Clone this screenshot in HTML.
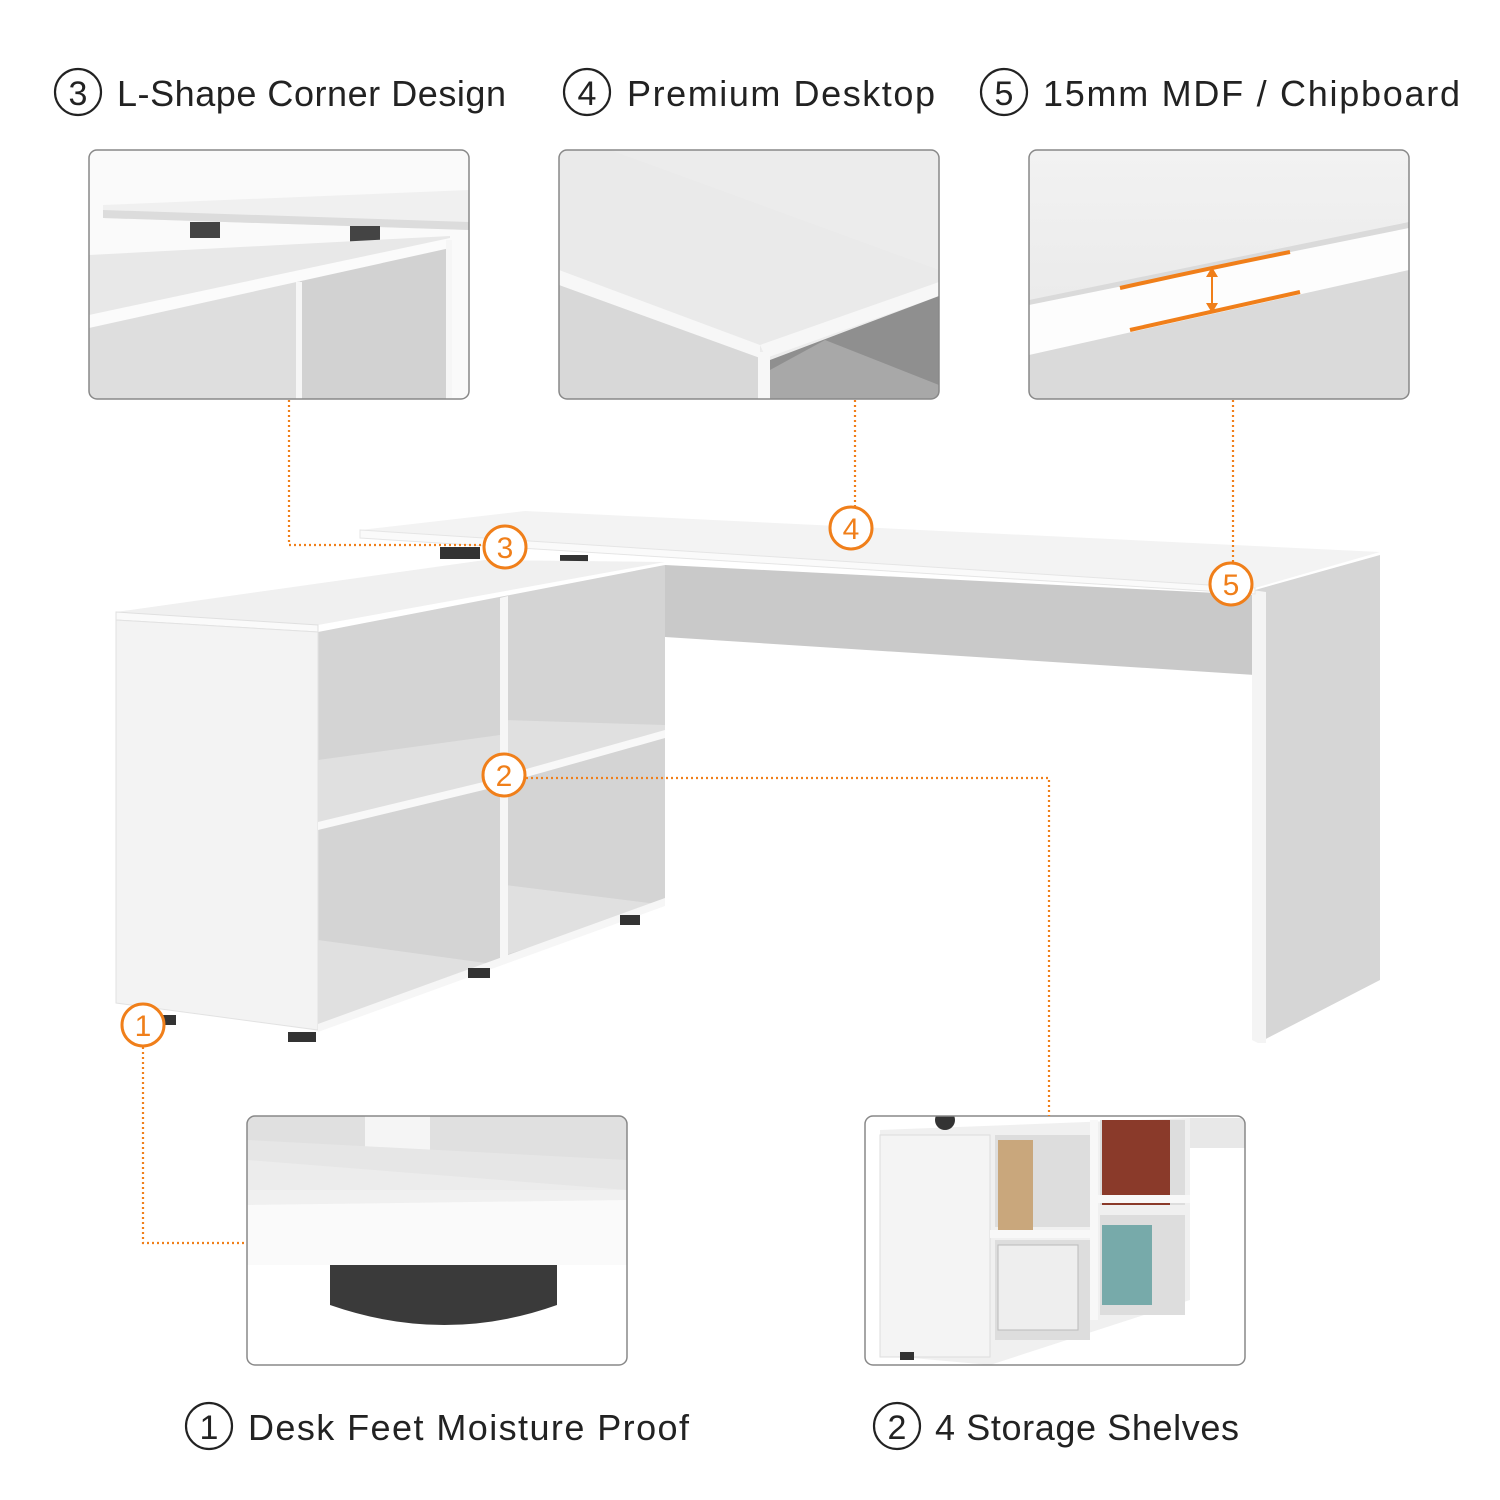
<!DOCTYPE html>
<html><head><meta charset="utf-8"><style>
html,body{margin:0;padding:0;background:#fff}
svg{display:block}
text{font-family:"Liberation Sans","DejaVu Sans",sans-serif}
</style></head><body>
<svg width="1500" height="1500" viewBox="0 0 1500 1500" xmlns="http://www.w3.org/2000/svg">
<defs>
<linearGradient id="g5" x1="0" y1="0" x2="0" y2="1"><stop offset="0" stop-color="#f2f2f2"/><stop offset="1" stop-color="#e6e6e6"/></linearGradient>
<clipPath id="c1"><rect x="89" y="150" width="380" height="249" rx="8"/></clipPath>
<clipPath id="c2"><rect x="559" y="150" width="380" height="249" rx="8"/></clipPath>
<clipPath id="c3"><rect x="1029" y="150" width="380" height="249" rx="8"/></clipPath>
<clipPath id="c4"><rect x="247" y="1116" width="380" height="249" rx="8"/></clipPath>
<clipPath id="c5"><rect x="865" y="1116" width="380" height="249" rx="8"/></clipPath>
</defs>

<!-- Headers -->
<g fill="none" stroke="#222" stroke-width="2.2">
<circle cx="78" cy="92" r="23"/><circle cx="587" cy="92" r="23"/><circle cx="1004" cy="92" r="23"/>
<circle cx="209" cy="1426" r="23"/><circle cx="897" cy="1426" r="23"/>
</g>
<g font-size="36" fill="#222">
<text x="78" y="105" text-anchor="middle" font-size="34">3</text>
<text x="587" y="105" text-anchor="middle" font-size="34">4</text>
<text x="1004" y="105" text-anchor="middle" font-size="34">5</text>
<text x="209" y="1439" text-anchor="middle" font-size="34">1</text>
<text x="897" y="1439" text-anchor="middle" font-size="34">2</text>
<text x="117" y="106" textLength="389">L-Shape Corner Design</text>
<text x="627" y="106" textLength="308">Premium Desktop</text>
<text x="1043" y="106" textLength="417">15mm MDF / Chipboard</text>
<text x="248" y="1440" textLength="441">Desk Feet Moisture Proof</text>
<text x="935" y="1440" textLength="304">4 Storage Shelves</text>
</g>

<!-- Box 1 -->
<g clip-path="url(#c1)">
<rect x="89" y="150" width="380" height="249" fill="#fafafa"/>
<polygon points="103,205 470,190 470,230 103,218" fill="#f0f0f0"/>
<polygon points="103,210 470,222 470,230 103,218" fill="#dcdcdc"/>
<rect x="190" y="222" width="30" height="16" fill="#444"/><rect x="350" y="226" width="30" height="16" fill="#444"/>
<polygon points="89,255 450,236 450,250 89,320" fill="#e8e8e8"/>
<polygon points="89,320 300,280 300,400 89,400" fill="#dedede"/>
<polygon points="300,280 450,240 450,400 300,400" fill="#d2d2d2"/>
<polygon points="89,315 450,238 450,248 89,328" fill="#fbfbfb"/>
<rect x="296" y="282" width="6" height="118" fill="#f6f6f6"/>
<rect x="446" y="240" width="6" height="160" fill="#f6f6f6"/>
</g>
<rect x="89" y="150" width="380" height="249" rx="8" fill="none" stroke="#888" stroke-width="1.5"/>

<!-- Box 2 -->
<g clip-path="url(#c2)">
<rect x="559" y="150" width="380" height="249" fill="#ececec"/>
<polygon points="559,150 610,150 939,270 939,290 760,350 559,270" fill="#eaeaea"/>
<polygon points="559,275 760,350 760,400 559,400" fill="#d8d8d8"/>
<polygon points="559,270 760,345 760,358 559,285" fill="#f7f7f7"/>
<polygon points="760,345 939,282 939,296 766,358" fill="#f7f7f7"/>
<polygon points="770,360 939,296 939,400 770,400" fill="#8f8f8f"/>
<polygon points="770,370 825,340 939,385 939,400 770,400" fill="#a8a8a8"/>
<rect x="758" y="352" width="12" height="48" fill="#f7f7f7"/>
</g>
<rect x="559" y="150" width="380" height="249" rx="8" fill="none" stroke="#888" stroke-width="1.5"/>

<!-- Box 3 -->
<g clip-path="url(#c3)">
<rect x="1029" y="150" width="380" height="249" fill="url(#g5)"/>
<polygon points="1029,300 1409,222 1409,400 1029,400" fill="#dadada"/>
<polygon points="1029,305 1409,228 1409,270 1029,355" fill="#fdfdfd"/>
<path d="M1120,288 Q1210,268 1290,252" stroke="#f07f1a" stroke-width="4" fill="none"/>
<path d="M1130,330 Q1210,312 1300,292" stroke="#f07f1a" stroke-width="4" fill="none"/>
<line x1="1212" y1="270" x2="1212" y2="310" stroke="#f07f1a" stroke-width="2"/>
<polygon points="1206,277 1212,267 1218,277" fill="#f07f1a"/><polygon points="1206,303 1212,313 1218,303" fill="#f07f1a"/>
</g>
<rect x="1029" y="150" width="380" height="249" rx="8" fill="none" stroke="#888" stroke-width="1.5"/>

<!-- Box 4 -->
<g clip-path="url(#c4)">
<rect x="247" y="1116" width="380" height="249" fill="#fff"/>
<polygon points="247,1116 627,1116 627,1160 247,1160" fill="#e0e0e0"/>
<rect x="365" y="1116" width="65" height="40" fill="#f5f5f5"/>
<polygon points="247,1140 627,1160 627,1190 247,1180" fill="#e6e6e6"/>
<polygon points="247,1160 627,1190 627,1235 247,1210" fill="#ececec"/>
<polygon points="247,1210 627,1235 627,1240 247,1215" fill="#f8f8f8"/>
<path d="M330,1240 L557,1240 L557,1300 Q445,1345 330,1300 Z" fill="#3a3a3a"/>
<rect x="247" y="1190" width="380" height="75" fill="#f3f3f3" opacity="0.6"/>
<polygon points="247,1205 627,1200 627,1265 247,1265" fill="#fafafa"/>
<path d="M330,1265 L557,1265 L557,1305 Q445,1345 330,1305 Z" fill="#3a3a3a"/>
</g>
<rect x="247" y="1116" width="380" height="249" rx="8" fill="none" stroke="#888" stroke-width="1.5"/>

<!-- Box 5 -->
<g clip-path="url(#c5)">
<rect x="865" y="1116" width="380" height="249" fill="#fff"/>
<rect x="1190" y="1118" width="55" height="30" fill="#e8e8e8"/>
<polygon points="880,1130 1190,1118 1190,1300 990,1365 880,1355" fill="#f0f0f0"/>
<rect x="880" y="1135" width="110" height="222" fill="#f4f4f4" stroke="#ddd"/>
<rect x="995" y="1135" width="95" height="92" fill="#ddd"/>
<rect x="995" y="1240" width="95" height="100" fill="#ddd"/>
<rect x="1100" y="1120" width="85" height="85" fill="#ddd"/>
<rect x="1100" y="1215" width="85" height="100" fill="#ddd"/>
<rect x="998" y="1140" width="35" height="95" fill="#c9a77c"/>
<rect x="1102" y="1120" width="68" height="85" fill="#8a3a2a"/>
<rect x="998" y="1245" width="80" height="85" fill="#eee" stroke="#bbb"/>
<rect x="1102" y="1225" width="50" height="80" fill="#7aa"/>
<rect x="1090" y="1120" width="8" height="200" fill="#f8f8f8"/>
<rect x="1095" y="1195" width="95" height="8" fill="#f8f8f8"/>
<rect x="990" y="1230" width="100" height="8" fill="#f8f8f8"/>
<circle cx="945" cy="1120" r="10" fill="#333"/>
<rect x="900" y="1352" width="14" height="8" fill="#333"/>
</g>
<rect x="865" y="1116" width="380" height="249" rx="8" fill="none" stroke="#888" stroke-width="1.5"/>

<!-- Desk -->
<polygon points="665,565 1255,595 1255,675 665,637" fill="#c9c9c9"/>
<polygon points="1255,590 1380,555 1380,980 1258,1043" fill="#d6d6d6"/>
<polygon points="1252,590 1266,592 1266,1043 1258,1043 1252,1040" fill="#f4f4f4"/>
<polygon points="360,530 525,511 1380,552 1255,588" fill="#f3f3f3"/>
<polygon points="360,530 1255,588 1255,594 360,538" fill="#fafafa" stroke="#e5e5e5"/>
<rect x="440" y="547" width="40" height="12" fill="#333"/><rect x="560" y="555" width="28" height="14" fill="#333"/>
<!-- cabinet -->
<polygon points="116,612 485,560 665,562 318,625" fill="#f0f0f0"/>
<polygon points="116,612 318,625 318,632 116,620" fill="#fafafa" stroke="#e0e0e0"/>
<polygon points="318,632 665,565 665,905 318,1030" fill="#d4d4d4"/>
<polygon points="116,620 318,632 318,1030 116,1003" fill="#f3f3f3" stroke="#e2e2e2"/>
<polygon points="318,760 500,735 500,780 318,828" fill="#e0e0e0"/>
<polygon points="318,822 500,778 500,786 318,830" fill="#f8f8f8"/>
<polygon points="505,720 665,725 665,733 505,780" fill="#e0e0e0"/>
<polygon points="505,775 665,730 665,738 505,783" fill="#f8f8f8"/>
<polygon points="318,940 500,965 318,1030" fill="#e0e0e0"/>
<polygon points="505,885 665,905 505,955" fill="#e0e0e0"/>
<polygon points="500,598 508,596 508,960 500,965" fill="#f6f6f6"/>
<polygon points="318,1024 665,898 665,906 318,1032" fill="#f6f6f6"/>
<rect x="160" y="1015" width="16" height="10" fill="#333"/><rect x="288" y="1032" width="28" height="10" fill="#333"/>
<rect x="468" y="968" width="22" height="10" fill="#333"/><rect x="620" y="915" width="20" height="10" fill="#333"/>

<!-- connectors -->
<g stroke="#f07f1a" stroke-width="2.2" stroke-dasharray="2,3" fill="none">
<polyline points="289,400 289,545 483,545"/>
<line x1="855" y1="400" x2="855" y2="507"/>
<line x1="1233" y1="400" x2="1233" y2="563"/>
<polyline points="526,778 1049,778 1049,1116"/>
<polyline points="143,1047 143,1243 245,1243"/>
</g>
<g fill="#fff" stroke="#f07f1a" stroke-width="3">
<circle cx="505" cy="547" r="21"/><circle cx="851" cy="528" r="21"/><circle cx="1231" cy="584" r="21"/>
<circle cx="504" cy="775" r="21"/><circle cx="143" cy="1025" r="21"/>
</g>
<g fill="#f07f1a" font-size="30" text-anchor="middle">
<text x="505" y="558">3</text><text x="851" y="539">4</text><text x="1231" y="595">5</text>
<text x="504" y="786">2</text><text x="143" y="1036">1</text>
</g>
</svg>
</body></html>
